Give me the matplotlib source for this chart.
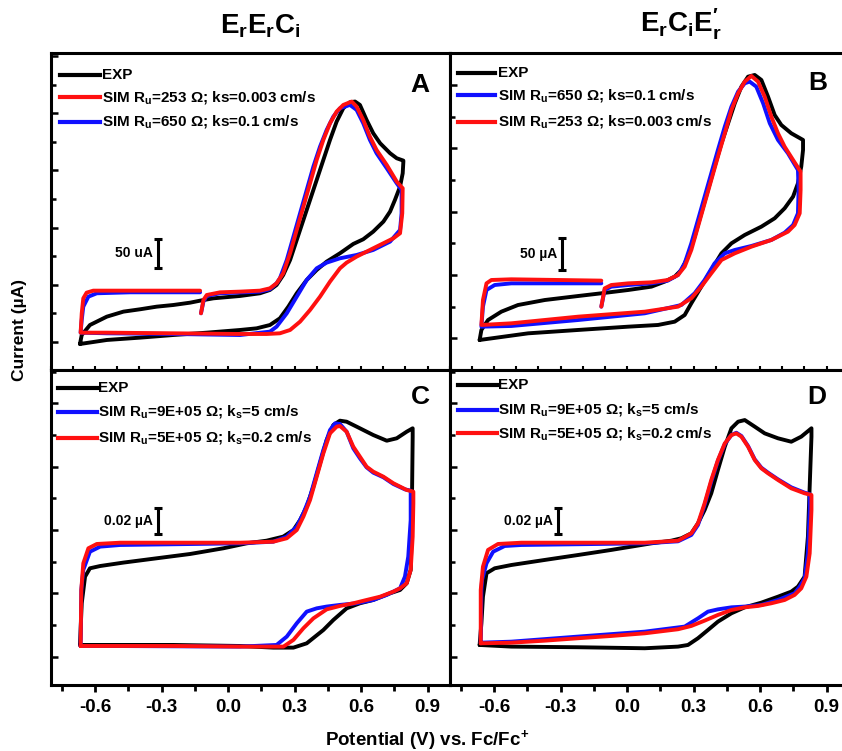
import matplotlib
matplotlib.use('Agg')
import matplotlib.pyplot as plt
from matplotlib.lines import Line2D
from matplotlib.ticker import MultipleLocator

plt.rcParams['font.family'] = ['Liberation Sans', 'DejaVu Sans']
plt.rcParams['font.weight'] = 'bold'
plt.rcParams['mathtext.fontset'] = 'custom'
plt.rcParams['mathtext.rm'] = 'Liberation Sans:bold'
plt.rcParams['mathtext.bf'] = 'Liberation Sans:bold'
plt.rcParams['mathtext.it'] = 'Liberation Sans:bold:italic'

# ---------------- data (potential V vs Fc/Fc+, current) ----------------
# Panel A (uA)
A_exp_E = [-0.668,-0.660,-0.623,-0.547,-0.472,-0.397,-0.322,-0.247,-0.171,-0.126,
           -0.066,0.054,0.144,0.189,0.219,0.249,0.280,0.310,0.340,0.370,
           0.400,0.430,0.460,0.490,0.520,0.550,0.573,0.595,0.625,0.655,
           0.686,0.731,0.761,0.791,
           0.791,0.788,0.776,0.753,0.731,0.701,0.655,0.610,0.565,0.505,
           0.445,0.400,0.355,0.310,0.272,0.234,0.189,0.129,0.054,-0.096,
           -0.247,-0.397,-0.547,-0.668]
A_exp_I = [-3.5,12.2,29.7,44.3,53.1,57.2,61.8,64.7,68.8,72.3,
           76.4,80.5,85.2,91.0,99.7,117.2,143.5,178.5,213.5,248.5,
           283.5,318.5,353.5,385.6,408.9,419.4,420.6,414.7,388.5,365.2,
           347.7,330.2,321.4,317.3,
           315.6,295.1,271.8,248.5,228.1,210.6,193.1,179.7,171.5,155.2,
           140.6,126.0,108.5,85.2,61.8,41.4,29.7,23.9,21.0,16.3,
           12.2,7.6,3.5,-3.5]
A_red_E = [-0.122,-0.111,-0.096,-0.036,0.054,0.144,0.189,0.219,0.249,0.280,
           0.310,0.340,0.370,0.400,0.430,0.460,0.490,0.520,0.558,0.580,
           0.610,0.640,0.670,0.716,0.761,0.788,
           0.786,0.776,0.746,0.655,0.580,0.535,0.505,0.460,0.415,0.370,
           0.325,0.280,0.234,0.174,0.054,-0.247,-0.547,-0.665,
           -0.660,-0.653,-0.638,-0.608,-0.397,-0.126]
A_red_I = [50.2,73.5,82.2,86.9,88.1,89.8,93.9,102.7,120.2,155.2,
           196.0,236.8,277.6,318.5,353.5,382.6,403.1,414.7,420.6,411.8,
           388.5,359.3,336.0,309.7,280.6,268.9,
           225.2,190.2,181.4,163.9,149.3,138.8,128.9,105.6,79.3,56.0,
           35.6,21.0,15.2,14.0,14.0,15.2,16.3,16.3,
           50.2,76.4,86.3,89.8,89.8,89.8]
A_blue_E = [-0.122,-0.111,-0.096,-0.036,0.144,0.189,0.219,0.234,0.265,0.295,
            0.325,0.355,0.385,0.415,0.445,0.475,0.505,0.550,0.580,0.610,
            0.640,0.670,0.716,0.761,0.783,
            0.783,0.776,0.731,0.655,0.580,0.505,0.445,0.400,0.355,0.310,
            0.265,0.219,0.189,0.054,-0.247,-0.547,-0.665,
            -0.660,-0.653,-0.630,-0.592,-0.442,-0.126]
A_blue_I = [50.2,70.6,80.5,85.2,88.1,92.2,102.7,111.4,143.5,184.3,
            225.2,266.0,306.8,341.8,371.0,394.3,408.9,414.7,406.0,382.6,
            353.5,330.2,303.9,277.6,266.0,
            225.2,196.0,175.6,161.0,152.2,146.4,138.8,128.9,108.5,79.3,
            50.2,26.8,18.1,12.2,14.0,15.2,16.3,
            38.5,61.8,79.3,85.2,86.9,86.9]

# Panel B (uA)
B_exp_E = [-0.665,-0.657,-0.627,-0.567,-0.492,-0.371,-0.221,-0.116,0.005,0.110,
           0.170,0.215,0.245,0.275,0.305,0.335,0.365,0.395,0.426,0.456,
           0.486,0.516,0.546,0.576,0.606,0.636,0.666,0.696,0.741,0.794,
           0.794,0.786,0.771,0.749,0.711,0.666,0.606,0.531,0.471,0.426,
           0.380,0.335,0.290,0.260,0.215,0.140,0.005,-0.221,-0.446,-0.665]
B_exp_I = [-2.6,13.2,28.9,42.1,52.6,60.5,66.8,71.1,76.3,81.6,
           89.5,97.4,107.9,128.9,160.5,197.4,234.2,271.1,307.9,339.5,
           371.0,397.4,413.1,415.8,407.9,381.6,352.6,336.8,323.7,313.2,
           297.4,271.1,244.7,223.7,205.3,189.5,176.3,163.2,150.0,134.2,
           107.9,81.6,55.3,36.8,26.3,21.1,18.4,13.2,7.9,-2.6]
B_red_E = [-0.116,-0.101,-0.071,0.005,0.110,0.184,0.230,0.260,0.290,0.320,
           0.350,0.380,0.410,0.441,0.471,0.501,0.531,0.561,0.591,0.621,
           0.651,0.681,0.711,0.749,0.783,
           0.783,0.779,0.756,0.726,0.651,0.561,0.486,0.426,0.380,0.335,
           0.290,0.230,0.080,-0.221,-0.522,-0.657,
           -0.650,-0.634,-0.612,-0.522,-0.116]
B_red_I = [50.0,78.9,84.2,86.8,88.4,92.1,100.0,113.2,139.5,176.3,
           213.2,250.0,286.8,323.7,360.5,386.8,405.3,414.2,405.3,381.6,
           350.0,323.7,302.6,281.6,263.2,
           234.2,197.4,178.9,168.4,155.3,144.7,134.2,123.7,102.6,81.6,
           63.2,50.0,42.1,34.2,23.7,21.1,
           60.5,86.8,92.1,93.2,91.1]
B_blue_E = [-0.116,-0.101,-0.071,0.005,0.110,0.184,0.230,0.260,0.290,0.320,
            0.350,0.380,0.410,0.441,0.471,0.501,0.531,0.553,0.583,0.614,
            0.644,0.681,0.726,0.771,
            0.774,0.771,0.749,0.711,0.651,0.561,0.486,0.441,0.395,0.350,
            0.305,0.245,0.080,-0.221,-0.522,-0.657,
            -0.650,-0.634,-0.597,-0.522,-0.116]
B_blue_I = [50.0,76.3,81.6,84.2,86.8,91.1,100.0,118.4,150.0,186.8,
            223.7,260.5,297.4,334.2,365.8,389.5,402.6,405.3,397.4,371.0,
            339.5,313.2,292.1,265.8,
            234.2,197.4,178.9,166.8,155.3,145.8,139.5,134.2,118.4,92.1,
            71.1,52.6,39.5,28.9,19.5,18.4,
            50.0,76.3,84.2,86.8,86.8]

# Panel C (nA)
C_exp_E = [-0.668,-0.660,-0.645,-0.623,-0.577,-0.472,-0.322,-0.171,-0.021,0.084,
           0.174,0.249,0.295,0.325,0.355,0.385,0.415,0.445,0.475,0.505,
           0.535,0.580,0.655,0.716,0.761,0.806,0.833,
           0.833,0.828,0.824,0.806,0.776,0.731,0.655,0.595,0.535,0.475,
           0.430,0.355,0.295,0.204,0.054,-0.247,-0.547,-0.668]
C_exp_I = [9.2,42.1,63.1,69.7,71.5,74.2,77.6,81.0,85.5,89.4,
           91.5,94.7,99.9,107.8,118.4,134.1,152.5,171.0,182.8,186.2,
           185.4,181.5,174.9,170.4,172.3,177.5,180.2,
           173.6,94.7,68.4,57.9,52.6,50.0,44.7,42.1,38.1,28.9,
           21.0,10.5,7.1,7.1,8.4,9.2,9.2,9.2]
C_red_E = [-0.665,-0.662,-0.653,-0.630,-0.592,-0.487,0.054,0.204,0.265,0.310,
           0.340,0.370,0.400,0.430,0.460,0.490,0.505,0.535,0.565,0.595,
           0.625,0.655,0.701,0.746,0.806,0.836,
           0.836,0.833,0.824,0.806,0.776,0.746,0.686,0.625,0.565,0.505,
           0.445,0.385,0.340,0.295,0.250,0.054,-0.247,-0.547,-0.665]
C_red_I = [8.4,52.6,73.6,85.5,88.9,89.9,89.9,90.7,93.4,99.9,
           110.5,123.6,142.0,160.4,176.2,181.5,182.0,177.5,165.7,157.8,
           149.9,146.0,142.0,136.8,131.5,130.2,
           121.0,94.7,68.4,57.9,53.9,51.3,47.3,44.7,42.1,40.0,
           37.3,30.2,22.4,13.2,7.9,7.9,8.4,8.4,8.4]
C_blue_E = [-0.665,-0.662,-0.653,-0.623,-0.577,-0.487,0.054,0.204,0.265,0.310,
            0.340,0.370,0.400,0.430,0.460,0.483,0.505,0.535,0.565,0.595,
            0.625,0.655,0.701,0.746,0.798,0.824,
            0.824,0.813,0.798,0.776,0.716,0.655,0.580,0.505,0.445,0.400,
            0.355,0.310,0.265,0.219,0.054,-0.547,-0.665]
C_blue_I = [8.4,52.6,68.4,82.8,86.8,88.1,89.4,90.7,94.7,102.6,
            113.1,126.2,144.7,163.1,178.8,184.1,183.6,177.5,164.4,156.5,
            149.4,145.2,141.5,136.2,132.0,131.0,
            107.8,78.9,63.1,53.9,48.7,44.7,42.1,40.8,39.5,38.1,
            35.5,26.3,15.8,9.2,7.9,8.4,8.4]

# Panel D (nA)
D_exp_E = [-0.665,-0.657,-0.650,-0.634,-0.597,-0.522,-0.371,-0.221,-0.071,0.110,
           0.200,0.245,0.290,0.320,0.350,0.380,0.410,0.441,0.471,0.501,
           0.531,0.576,0.621,0.681,0.741,0.786,0.832,
           0.832,0.824,0.816,0.801,0.771,0.741,0.681,0.606,0.531,0.471,
           0.410,0.365,0.320,0.275,0.230,0.080,-0.221,-0.522,-0.665]
D_exp_I = [9.2,26.3,47.3,65.8,69.7,72.3,76.3,80.2,84.2,89.4,
           91.5,93.4,97.3,105.2,115.7,128.9,147.3,165.7,180.2,185.4,
           186.7,181.5,176.2,172.3,169.6,173.6,180.2,
           173.6,134.1,94.7,63.1,55.2,51.3,47.3,42.6,38.9,34.2,
           27.6,21.0,14.5,9.2,7.9,6.6,7.4,7.9,9.2]
D_red_E = [-0.660,-0.660,-0.650,-0.627,-0.582,-0.477,0.080,0.230,0.290,0.320,
           0.350,0.380,0.410,0.441,0.471,0.493,0.516,0.546,0.576,0.606,
           0.636,0.681,0.741,0.801,0.832,
           0.832,0.824,0.809,0.786,0.756,0.711,0.651,0.591,0.531,0.471,
           0.410,0.350,0.290,0.230,0.080,-0.071,-0.221,-0.371,-0.522,-0.660]
D_red_I = [10.5,52.6,71.0,84.2,88.9,89.9,89.9,91.5,97.3,105.2,
           121.0,139.4,155.2,168.3,174.9,176.2,173.6,165.7,155.2,148.6,
           144.7,139.4,132.8,128.9,127.6,
           115.7,81.5,63.1,53.9,48.7,44.7,42.1,40.0,38.9,36.8,
           32.9,28.4,24.2,21.6,18.4,16.3,14.5,12.6,11.0,10.5]
D_blue_E = [-0.660,-0.657,-0.654,-0.634,-0.604,-0.552,-0.477,0.080,0.230,0.290,
            0.320,0.350,0.380,0.410,0.441,0.471,0.493,0.516,0.546,0.576,
            0.606,0.636,0.681,0.741,0.801,0.824,
            0.824,0.816,0.801,0.779,0.756,0.681,0.606,0.531,0.471,0.410,
            0.365,0.320,0.260,0.080,-0.221,-0.522,-0.660]
D_blue_I = [11.0,52.6,60.5,73.6,82.8,87.3,88.1,89.4,91.0,96.0,
            103.9,119.7,138.1,154.6,167.8,174.9,176.7,174.1,166.2,155.7,
            149.1,145.2,139.9,133.6,129.4,128.3,
            115.7,81.5,61.8,55.2,50.0,44.7,40.8,39.5,38.9,37.3,
            35.5,30.2,23.7,19.7,15.8,11.8,11.0]

# legends / labels
titles = [r'$\mathbf{E_rE_rC_i}$', r'$\mathbf{E_rC_iE}_{\mathbf{r}}^{\prime}$']
lab_A = ['EXP', r'SIM R$_\mathbf{u}$=253 Ω; ks=0.003 cm/s', r'SIM R$_\mathbf{u}$=650 Ω; ks=0.1 cm/s']
lab_B = ['EXP', r'SIM R$_\mathbf{u}$=650 Ω; ks=0.1 cm/s', r'SIM R$_\mathbf{u}$=253 Ω; ks=0.003 cm/s']
lab_CD = ['EXP', r'SIM R$_\mathbf{u}$=9E+05 Ω; k$_\mathbf{s}$=5 cm/s',
          r'SIM R$_\mathbf{u}$=5E+05 Ω; k$_\mathbf{s}$=0.2 cm/s']
bar_labels = ['50 uA', '50 µA', '0.02 µA', '0.02 µA']
bar_E = [-0.316, -0.293, -0.316, -0.311]
bar_lo = [130, 108, 97, 97]
bar_hi = [180, 158, 117, 117]
xticks_major = [-0.6, -0.3, 0.0, 0.3, 0.6, 0.9]

RED = '#ff1010'
BLUE = '#1010ff'
W, H = 842, 751
fig = plt.figure(figsize=(W/100, H/100), dpi=100)

def axes_px(l, t, r, b):
    return fig.add_axes([l/W, 1-b/H, (r-l)/W, (b-t)/H])

LX, RX = 50.7, 449.7
TOP, MID, BOT = 53.3, 370, 685
axA = axes_px(LX, TOP, RX, MID)
axB = axes_px(RX, TOP, RX+399, MID)
axC = axes_px(LX, MID, RX, BOT)
axD = axes_px(RX, MID, RX+399, BOT)

panels = [
    (axA, A_exp_E, A_exp_I, A_red_E, A_red_I, A_blue_E, A_blue_I, (-49, 505), 50, 'A'),
    (axB, B_exp_E, B_exp_I, B_red_E, B_red_I, B_blue_E, B_blue_I, (-50, 450), 50, 'B'),
    (axC, C_exp_E, C_exp_I, C_red_E, C_red_I, C_blue_E, C_blue_I, (-22.4, 226.2), 25, 'C'),
    (axD, D_exp_E, D_exp_I, D_red_E, D_red_I, D_blue_E, D_blue_I, (-22.4, 226.2), 25, 'D'),
]
LW = 2.8
for i, (ax, eE, eI, rE, rI, bE, bI, ylim, ystep, letter) in enumerate(panels):
    ax.plot(eE, eI, color='black', lw=LW, solid_joinstyle='round', solid_capstyle='round', zorder=3)
    ax.plot(bE, bI, color=BLUE, lw=LW, solid_joinstyle='round', solid_capstyle='round', zorder=4)
    ax.plot(rE, rI, color=RED, lw=LW, solid_joinstyle='round', solid_capstyle='round', zorder=5)
    ax.set_xlim(-0.8, 1.0)
    ax.set_ylim(*ylim)
    for s in ax.spines.values():
        s.set_linewidth(2.2)
    ax.yaxis.set_major_locator(MultipleLocator(2*ystep))
    ax.yaxis.set_minor_locator(MultipleLocator(ystep))
    ax.tick_params(axis='y', which='both', direction='in', left=True, right=False,
                   labelleft=False, width=1.8)
    ax.tick_params(axis='y', which='major', length=5)
    ax.tick_params(axis='y', which='minor', length=3.5)
    if i < 2:
        ax.xaxis.set_major_locator(MultipleLocator(0.1))
        ax.xaxis.set_minor_locator(plt.NullLocator())
        ax.tick_params(axis='x', which='major', direction='in', length=3, width=1.5,
                       labelbottom=False, top=False)
    else:
        ax.set_xticks(xticks_major)
        ax.set_xticklabels(['-0.6', '-0.3', '0.0', '0.3', '0.6', '0.9'])
        ax.xaxis.set_minor_locator(MultipleLocator(0.15))
        ax.tick_params(axis='x', which='both', direction='out', width=2.0, top=False,
                       labelsize=13.5, pad=5)
        ax.tick_params(axis='x', which='major', length=5)
        ax.tick_params(axis='x', which='minor', length=4)
        for t in ax.get_xticklabels():
            t.set_fontweight('bold')
    # scale bar
    mid = 0.5*(bar_lo[i] + bar_hi[i])
    half = 0.5*(bar_hi[i] - bar_lo[i])
    ax.errorbar([bar_E[i]], [mid], yerr=[half], fmt='none', ecolor='black',
                elinewidth=2.2, capsize=3, capthick=2.2, zorder=6)
    ax.text(bar_E[i] - 0.022, mid, bar_labels[i], ha='right', va='center',
            fontsize=10, fontweight='bold')

# panel letters
for (px, py, l) in [(420, 85, 'A'), (818, 83, 'B'), (420, 397, 'C'), (817, 397, 'D')]:
    fig.text(px/W, 1-py/H, l, ha='center', va='center', fontsize=19, fontweight='bold')

# manual legends
def legend(x0, x1, xt, rows, labels, colors):
    for y, lab, c in zip(rows, labels, colors):
        fig.add_artist(Line2D([x0/W, x1/W], [1-y/H, 1-y/H], color=c, lw=3.0,
                              transform=fig.transFigure))
        fig.text(xt/W, 1-y/H, lab, ha='left', va='center', fontsize=11, fontweight='bold')

legend(60, 100, 102, [75, 97, 121.7], lab_A, ['black', RED, BLUE])
legend(457.7, 495, 498, [73.3, 95, 121.7], lab_B, ['black', BLUE, RED])
legend(58, 97, 98, [388, 412, 438], lab_CD, ['black', BLUE, RED])
legend(458, 497, 498, [385, 410, 433], lab_CD, ['black', BLUE, RED])

# titles
fig.text(260/W, 1-33/H, titles[0], ha='center', va='baseline', fontsize=20)
fig.text(681/W, 1-33/H, titles[1], ha='center', va='baseline', fontsize=20)

# axis labels
fig.text(427/W, 1-745/H, r'Potential (V) vs. Fc/Fc$^\mathbf{+}$', ha='center', va='baseline',
         fontsize=13.5, fontweight='bold')
fig.text(20/W, 1-330/H, 'Current (µA)', ha='center', va='center', rotation=90,
         fontsize=12.5, fontweight='bold')

fig.savefig('out.png', dpi=100)
